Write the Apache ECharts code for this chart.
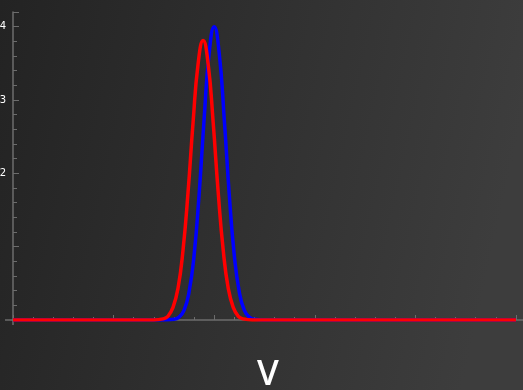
<!DOCTYPE html>
<html>
<head>
<meta charset="utf-8">
<script src="https://cdn.jsdelivr.net/npm/echarts@6/dist/echarts.min.js"></script>
<style>
  html, body { margin: 0; padding: 0; background: #2b2b2b; }
  #chart { width: 523px; height: 390px; }
</style>
</head>
<body>
<div id="chart"></div>
<script>
// Two bell-shaped distributions over V
const blueV = [0, 1.5, 1.6, 1.65, 1.7, 1.75, 1.8, 1.85, 1.9, 1.95, 2.0, 2.05, 2.1, 2.15, 2.2, 2.25, 2.3, 2.35, 2.4, 2.5, 5];
const blueY = [0, 0, 0.01, 0.04, 0.13, 0.38, 0.88, 1.71, 2.74, 3.64, 4.0, 3.64, 2.74, 1.71, 0.88, 0.38, 0.13, 0.04, 0.01, 0, 0];

const redV = [0, 1.4, 1.49, 1.54, 1.59, 1.64, 1.69, 1.74, 1.79, 1.84, 1.89, 1.94, 1.99, 2.04, 2.09, 2.14, 2.19, 2.24, 2.29, 2.38, 5];
const redY = [0, 0, 0.015, 0.05, 0.17, 0.43, 0.95, 1.74, 2.69, 3.49, 3.81, 3.49, 2.69, 1.74, 0.95, 0.43, 0.17, 0.05, 0.015, 0, 0];

// Tick labels shown on the vertical axis
const yTickValues = [2, 3, 4];
const yTickLabels = ['2', '3', '4'];

const xAxisName = 'V';

const zip = (xs, ys) => xs.map((x, i) => [x, ys[i]]);

const axisGrey = '#6c6c6c';

const chart = echarts.init(document.getElementById('chart'), null, { renderer: 'canvas' });

const option = {
  backgroundColor: {
    type: 'linear', x: 0, y: 0, x2: 1, y2: 0.3,
    colorStops: [
      { offset: 0, color: '#232323' },
      { offset: 1, color: '#3d3d3d' }
    ]
  },
  animation: false,
  grid: { left: 13, right: 0, top: 12, bottom: 70, containLabel: false, outerBoundsMode: 'none' },
  xAxis: {
    type: 'value',
    min: 0,
    max: 5.07,
    interval: 1,
    name: xAxisName,
    nameLocation: 'middle',
    nameGap: 38,
    nameTextStyle: { color: '#ffffff', fontSize: 35, fontWeight: 600, fontFamily: 'Open Sans' },
    axisLine: { show: true, onZero: false, lineStyle: { color: axisGrey, width: 1.5 } },
    axisTick: { show: true, inside: true, length: 5, lineStyle: { color: axisGrey, width: 1 } },
    minorTick: { show: true, splitNumber: 5, length: 3, lineStyle: { color: axisGrey, width: 1 } },
    axisLabel: { show: false },
    splitLine: { show: false },
    minorSplitLine: { show: false }
  },
  yAxis: {
    type: 'value',
    min: 0,
    max: 4.2,
    interval: 1,
    axisLine: { show: true, onZero: false, lineStyle: { color: axisGrey, width: 1.5 } },
    axisTick: { show: true, inside: true, length: 6, lineStyle: { color: axisGrey, width: 1 } },
    minorTick: { show: true, splitNumber: 5, length: 4, lineStyle: { color: axisGrey, width: 1 } },
    axisLabel: {
      show: true,
      margin: 7,
      color: '#ffffff',
      fontSize: 10,
      fontFamily: 'DejaVu Sans',
      formatter: v => {
        const i = yTickValues.indexOf(v);
        return i >= 0 ? yTickLabels[i] : '';
      }
    },
    splitLine: { show: false },
    minorSplitLine: { show: false }
  },
  series: [
    {
      type: 'line',
      name: 'blue',
      data: zip(blueV, blueY),
      smooth: 0.5,
      showSymbol: false,
      lineStyle: { color: '#0000ff', width: 3.5 },
      z: 3
    },
    {
      type: 'line',
      name: 'red',
      data: zip(redV, redY),
      smooth: 0.5,
      showSymbol: false,
      lineStyle: { color: '#ff0000', width: 3.5 },
      z: 4
    }
  ]
};

chart.setOption(option);

// Short axis overhangs past the origin, placed from the axes' own scales
const origin = chart.convertToPixel({ gridIndex: 0 }, [0, 0]);
chart.setOption({
  graphic: [
    {
      type: 'line',
      shape: { x1: origin[0] - 8, y1: origin[1], x2: origin[0], y2: origin[1] },
      style: { stroke: axisGrey, lineWidth: 1.5 },
      z: 2
    },
    {
      type: 'line',
      shape: { x1: origin[0], y1: origin[1], x2: origin[0], y2: origin[1] + 5 },
      style: { stroke: axisGrey, lineWidth: 1.5 },
      z: 2
    }
  ]
});
</script>
</body>
</html>
